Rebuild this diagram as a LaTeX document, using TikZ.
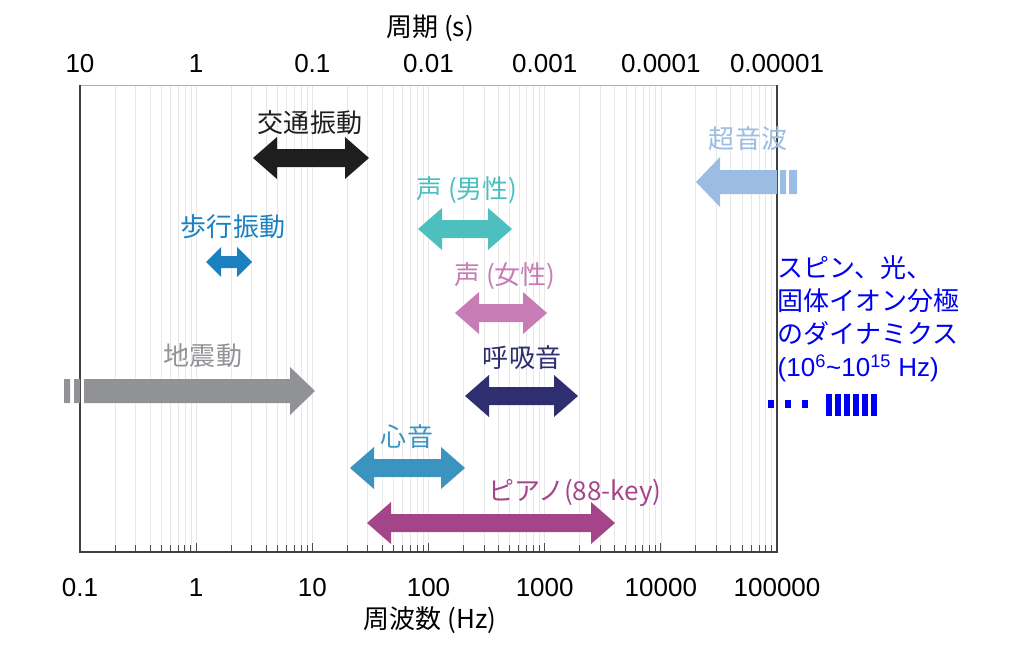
\documentclass[tikz,border=0pt]{standalone}
\usepackage{fontspec}
\setmainfont{Liberation Sans}
\newfontfamily\jp{Noto Sans CJK JP}
\usetikzlibrary{positioning}
\definecolor{traffic}{HTML}{1E1E1E}
\definecolor{walk}{HTML}{1A80C0}
\definecolor{male}{HTML}{4DBFBF}
\definecolor{female}{HTML}{C77CB5}
\definecolor{breath}{HTML}{2E2E70}
\definecolor{quake}{HTML}{909296}
\definecolor{heart}{HTML}{3B94C0}
\definecolor{piano}{HTML}{A4458A}
\definecolor{ultra}{HTML}{9BBDE3}
\definecolor{spin}{HTML}{0000F0}
% double arrow: colour, x1, x2, y, body half, head half, head length
\newcommand{\dblarrow}[7]{%
  \fill[#1] (#2,#4) -- (#2+#7,#4-#6) -- (#2+#7,#4-#5) -- (#3-#7,#4-#5) -- (#3-#7,#4-#6)
    -- (#3,#4) -- (#3-#7,#4+#6) -- (#3-#7,#4+#5) -- (#2+#7,#4+#5) -- (#2+#7,#4+#6) -- cycle;}
\begin{document}
\begin{tikzpicture}[x=0.025cm,y=-0.025cm,
  lbl/.style={font=\jp\fontsize{18.5}{22}\selectfont,inner sep=1pt},
  num/.style={font=\fontsize{18.5}{22}\selectfont,inner sep=1pt}]
\useasboundingbox (0,0) rectangle (1024,650);
% grid and ticks
\foreach \d in {0,...,5}{
  \foreach \k in {2,...,9}{
    \pgfmathsetmacro{\gx}{80+116.17*(\d+ln(\k)/ln(10))}
    \draw[gray!18,line width=0.5pt] (\gx,85) -- (\gx,552);
    \draw[black!70,line width=0.6pt] (\gx,552) -- (\gx,545);
  }
  \pgfmathsetmacro{\gx}{80+116.17*(\d+1)}
  \draw[gray!18,line width=0.5pt] (\gx,85) -- (\gx,552);
  \draw[black!70,line width=0.6pt] (\gx,552) -- (\gx,543);
}
\draw[gray!60,line width=0.6pt] (80,85) -- (777,85);
\draw[black!75,line width=0.9pt] (80,85) -- (80,552) -- (777,552) -- (777,85);
% axis labels
\foreach \v [count=\i from 0] in {10,1,0.1,0.01,0.001,0.0001,0.00001}
  \node[num] (t\i) at (80+116.17*\i,64) {\v};
\foreach \v [count=\i from 0] in {0.1,1,10,100,1000,10000,100000}
  \node[num] (b\i) at (80+116.17*\i,588) {\v};
\node[lbl] (period) at (430,28) {周期 (s)};
\node[lbl] (freq) at (430,620) {周波数 (Hz)};
% arrows
\dblarrow{traffic}{253}{369}{158}{9}{21}{24}
\node[lbl,text=traffic] (traffic) at (310,123) {交通振動};
\dblarrow{walk}{206}{252}{262}{6}{15}{15}
\node[lbl,text=walk] (walk) at (233,227) {歩行振動};
\dblarrow{male}{418}{512}{229}{9}{21}{24}
\node[lbl,text=male] (male) at (467,190) {声 (男性)};
\dblarrow{female}{455}{547}{313}{9}{21}{24}
\node[lbl,text=female] (female) at (505,276) {声 (女性)};
\dblarrow{breath}{465}{578}{396}{9}{21}{24}
\node[lbl,text=breath] (breath) at (522,358) {呼吸音};
\dblarrow{heart}{350}{465}{468}{9}{21}{24}
\node[lbl,text=heart] (heart) at (407,437) {心音};
\dblarrow{piano}{367}{615}{523}{9}{21}{24}
\node[lbl,text=piano] (piano) at (575,493) {ピアノ(88-key)};
% earthquake
\fill[quake] (64,379) rectangle (70,403) (74,379) rectangle (80,403);
\fill[quake] (84,379) -- (290,379) -- (290,367) -- (315,391) -- (290,415) -- (290,403) -- (84,403) -- cycle;
\node[lbl,text=quake] (quake) at (203,356) {地震動};
% ultrasound
\fill[ultra] (777,170) -- (720,170) -- (720,157) -- (696,182) -- (720,207) -- (720,194) -- (777,194) -- cycle;
\fill[ultra] (780,170) rectangle (786,194) (789,170) rectangle (797,194);
\node[lbl,text=ultra] (ultra) at (748,139) {超音波};
% spin etc.
\node[lbl,text=spin,anchor=north west,align=left,font=\jp\fontsize{18.5}{23.5}\selectfont] (spin) at (776,254)
  {スピン、光、\\固体イオン分極\\のダイナミクス\\{\fontspec{Liberation Sans}(10\textsuperscript{6}\textasciitilde10\textsuperscript{15} Hz)}};
\foreach \x in {768,785,802}
  \fill[spin] (\x,400) rectangle (\x+6,408);
\foreach \x in {826,835,844,853,862,871}
  \fill[spin] (\x,394) rectangle (\x+6,416);
\end{tikzpicture}
\end{document}
